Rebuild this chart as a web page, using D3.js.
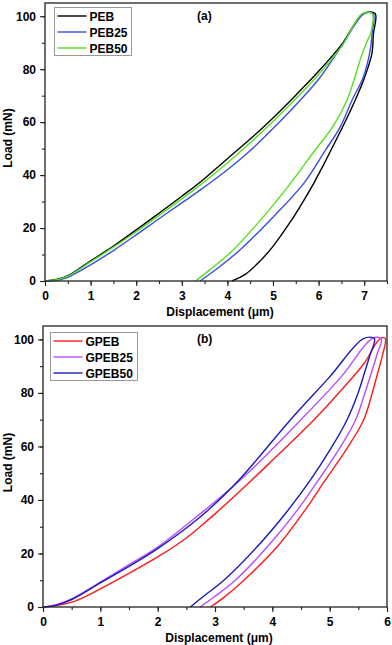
<!DOCTYPE html>
<html>
<head>
<meta charset="utf-8">
<script src="https://cdn.jsdelivr.net/npm/d3@7"></script>
<style>
  body { margin: 0; background: #fff; }
  text { font-family: "Liberation Sans", Arial, sans-serif; font-weight: bold; }
</style>
</head>
<body>
<script>
const width = 392;
const height = 645;

// panel (a) data: [displacement (um), load (mN)]
const pebNames = ["PEB", "PEB25", "PEB50"];
const peb = [[0,0],[0.3,0.8],[0.5,2],[1,7.6],[1.5,13.2],[2,19.3],[2.5,25.6],[3,32],[3.4,37.3],[4,46.2],[4.5,53.6],[5,61.6],[5.5,70.2],[6,79.2],[6.5,89.2],[6.98,101],
  [7.24,101],[7.2,93],[7.17,86],[7.0,76.5],[6.8,68.2],[6.55,59],[6.27,49.4],[6.1,43.6],[5.89,36.8],[5.6,28.3],[5.38,22.3],[5.0,13.1],[4.72,7.6],[4.4,2.6],[4.1,0]];
const peb25 = [[0,0],[0.3,0.4],[0.5,1.4],[1,6.1],[1.5,11.5],[2,17.4],[2.5,23.5],[3,29.5],[3.4,34.3],[4,42],[4.46,48.6],[5,57.6],[5.5,66.5],[6,76.2],[6.5,88.6],[7.0,101],
  [7.2,101],[7.17,93],[7.13,87],[6.98,77],[6.73,68.2],[6.47,58],[6.15,49.4],[5.67,36.8],[5.01,24.3],[4.28,11.8],[3.8,5],[3.4,0]];
const peb50 = [[0,0],[0.3,0.6],[0.5,1.8],[1,7.2],[1.5,12.8],[2,18.6],[2.5,24.8],[3,31],[3.4,36.2],[4,44.6],[4.5,52.2],[5,60.2],[5.5,68.8],[6,78],[6.5,88.4],[6.96,101],
  [7.17,101],[7.15,94],[7.05,90],[6.95,85.5],[6.62,68.2],[6.3,58],[5.92,49.4],[5.38,36.8],[4.79,24.3],[4.13,11.8],[3.6,4],[3.3,0]];

// panel (b) data
const gpebNames = ["GPEB", "GPEB25", "GPEB50"];
const gpeb = [[0,0],[0.25,0.6],[0.5,1.8],[0.75,4.0],[1,6.8],[1.5,12.6],[2,18.7],[2.5,25.8],[2.74,30],[3,34.8],[3.62,47],[4,54.8],[4.72,69.8],[5.2,81],[5.6,91],[5.88,100.3],
  [5.97,100.3],[5.92,94],[5.85,88.4],[5.73,79],[5.59,69.8],[5.28,58.5],[4.92,47.3],[4.58,36.5],[4.08,22.4],[3.5,9.9],[3.15,3.5],[2.92,0]];
const gpeb25 = [[0,0],[0.25,1],[0.5,3.0],[1,9.3],[1.5,15.8],[2,22.4],[2.74,34.8],[3.5,48.6],[4.49,69.8],[5.2,86],[5.74,100.3],
  [5.9,100.3],[5.82,94],[5.74,88.4],[5.6,79],[5.45,69.8],[5.15,58.5],[4.8,47.3],[4.43,36],[3.91,22.4],[3.35,9.9],[3.0,4],[2.74,0]];
const gpeb50 = [[0,0],[0.25,0.8],[0.5,2.8],[1,9.0],[1.5,15.2],[2,21.8],[2.74,33.6],[3.41,47.3],[4.31,69.8],[5.0,86],[5.59,100.3],
  [5.78,100.3],[5.7,94],[5.62,88.4],[5.48,79],[5.3,69.8],[5.0,58.5],[4.66,47.3],[4.26,35.8],[3.73,22.4],[3.15,9.9],[2.8,4],[2.57,0]];

const yTicks = [0, 20, 40, 60, 80, 100];

const svg = d3.select("body").append("svg")
  .attr("width", width)
  .attr("height", height);

function drawPanel(opt) {
  const x = d3.scaleLinear().domain(opt.xDomain).range([opt.left, opt.right]);
  const y = d3.scaleLinear().domain([0, 105]).range([opt.bottom, opt.top]);
  const g = svg.append("g");

  // minor ticks
  const xMinor = d3.range(opt.xDomain[0], opt.xDomain[1] + 0.01, 0.5);
  g.append("g")
    .attr("transform", "translate(0," + opt.bottom + ")")
    .call(d3.axisBottom(x).tickValues(xMinor).tickSize(3).tickFormat(""))
    .call(a => a.select(".domain").remove());
  g.append("g")
    .attr("transform", "translate(" + opt.left + ",0)")
    .call(d3.axisLeft(y).tickValues(d3.range(0, 101, 10)).tickSize(3).tickFormat(""))
    .call(a => a.select(".domain").remove());

  // major ticks + labels
  g.append("g")
    .attr("transform", "translate(0," + opt.bottom + ")")
    .call(d3.axisBottom(x).tickValues(opt.xTicks).tickSize(5).tickPadding(5).tickFormat(d3.format("d")))
    .call(a => a.select(".domain").remove())
    .selectAll("text").attr("font-size", 12).attr("fill", "#000")
      .style("font-family", "Liberation Sans, Arial, sans-serif").style("font-weight", "bold");
  g.append("g")
    .attr("transform", "translate(" + opt.left + ",0)")
    .call(d3.axisLeft(y).tickValues(yTicks).tickSize(5).tickPadding(4).tickFormat(d3.format("d")))
    .call(a => a.select(".domain").remove())
    .selectAll("text").attr("font-size", 12).attr("fill", "#000")
      .style("font-family", "Liberation Sans, Arial, sans-serif").style("font-weight", "bold");
  g.selectAll(".tick line").attr("stroke", "#222").attr("stroke-width", 1.1);

  // curves
  const line = d3.line()
    .x(d => x(d[0]))
    .y(d => y(d[1]))
    .curve(d3.curveCatmullRom.alpha(0.5));
  g.append("g")
    .selectAll("path")
    .data(opt.series)
    .enter()
    .append("path")
    .attr("d", d => line(d))
    .attr("fill", "none")
    .attr("stroke", (d, i) => opt.colors[i])
    .attr("stroke-width", 1.4)
    .attr("stroke-linejoin", "round");

  // frame
  g.append("rect")
    .attr("x", opt.left).attr("y", opt.top)
    .attr("width", opt.right - opt.left).attr("height", opt.bottom - opt.top)
    .attr("fill", "none").attr("stroke", "#222").attr("stroke-width", 1.3);

  // axis titles
  g.append("text")
    .attr("x", (opt.left + opt.right) / 2 + 4)
    .attr("y", opt.bottom + 35)
    .attr("text-anchor", "middle")
    .attr("font-size", 12)
    .text("Displacement (\u03bcm)");
  g.append("text")
    .attr("transform", "translate(12," + ((opt.top + opt.bottom) / 2 - 4) + ") rotate(-90)")
    .attr("text-anchor", "middle")
    .attr("font-size", 12)
    .text("Load (mN)");

  // panel tag
  g.append("text")
    .attr("x", 197).attr("y", opt.top + 17)
    .attr("font-size", 12)
    .text(opt.tag);

  // legend
  const lg = g.append("g").attr("transform", "translate(" + opt.legX + "," + opt.legY + ")");
  lg.append("rect")
    .attr("width", opt.legW).attr("height", 48)
    .attr("fill", "#fff").attr("stroke", "#999").attr("stroke-width", 1);
  opt.names.forEach(function(n, i) {
    lg.append("line")
      .attr("x1", 3).attr("x2", 32)
      .attr("y1", 8.5 + i * 16).attr("y2", 8.5 + i * 16)
      .attr("stroke", opt.colors[i]).attr("stroke-width", 1.4);
    lg.append("text")
      .attr("x", 35).attr("y", 13 + i * 16)
      .attr("font-size", 12)
      .text(n);
  });
}

drawPanel({
  left: 45, right: 387, top: 3, bottom: 281,
  xDomain: [0, 7.5], xTicks: d3.range(0, 8),
  series: [peb, peb25, peb50],
  names: pebNames,
  colors: ["#000000", "#3a4ee0", "#55e020"],
  tag: "(a)",
  legX: 54.5, legY: 7.5, legW: 77
});

drawPanel({
  left: 43, right: 387, top: 326, bottom: 607,
  xDomain: [0, 6], xTicks: d3.range(0, 7),
  series: [gpeb, gpeb25, gpeb50],
  names: gpebNames,
  colors: ["#ff1a1a", "#b84dff", "#1a1ab8"],
  tag: "(b)",
  legX: 50.5, legY: 332.5, legW: 87
});
</script>
</body>
</html>
